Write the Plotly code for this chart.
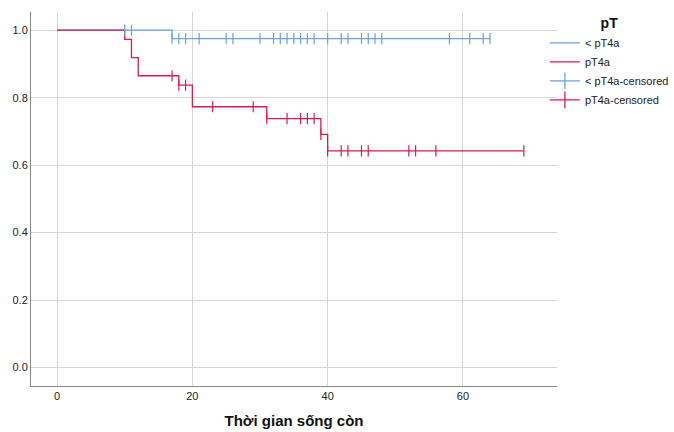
import plotly.graph_objects as go
import numpy as np

# ---- data ----
blue_name = "< pT4a"
red_name = "pT4a"
blue_times = [0, 17, 64]
blue_surv = [1.0, 0.975, 0.975]
blue_censor = [10, 11, 17, 18, 19, 21, 25, 26, 30, 32, 33, 34, 35, 36, 37, 38,
               40, 42, 43, 45, 46, 47, 48, 58, 61, 63, 64]

red_times = [0, 10, 11, 12, 18, 20, 31, 39, 40, 69]
red_surv = [1.0, 0.973, 0.919, 0.865, 0.837, 0.773, 0.738, 0.691, 0.642, 0.642]
red_censor = [17, 18, 19, 23, 29, 31, 34, 36, 37, 38, 39, 40, 42, 43, 45, 46,
              52, 53, 56, 69]

x_ticks = [0, 20, 40, 60]
y_ticks = [0.0, 0.2, 0.4, 0.6, 0.8, 1.0]

BLUE = "#6a9fe2"
RED = "#d81c4f"


def surv_at(times, surv, t):
    idx = np.searchsorted(np.array(times), t, side="right") - 1
    return surv[max(idx, 0)]


fig = go.Figure()
fig.add_trace(go.Scatter(x=blue_times, y=blue_surv, mode="lines", line_shape="hv",
                         line=dict(color=BLUE, width=1.3), name=blue_name))
fig.add_trace(go.Scatter(x=red_times, y=red_surv, mode="lines", line_shape="hv",
                         line=dict(color=RED, width=1.3), name=red_name))

# censored marks (drawn on the curves)
fig.add_trace(go.Scatter(x=blue_censor, y=[surv_at(blue_times, blue_surv, t) for t in blue_censor],
                         mode="markers", marker=dict(symbol="line-ns", size=8,
                                                     line=dict(color=BLUE, width=1.2)),
                         showlegend=False, hoverinfo="x+y"))
fig.add_trace(go.Scatter(x=red_censor, y=[surv_at(red_times, red_surv, t) for t in red_censor],
                         mode="markers", marker=dict(symbol="line-ns", size=8,
                                                     line=dict(color=RED, width=1.2)),
                         showlegend=False, hoverinfo="x+y"))

# legend entries for censored series
fig.add_trace(go.Scatter(x=[None], y=[None], mode="lines+markers",
                         line=dict(color=BLUE, width=1.3),
                         marker=dict(symbol="line-ns", size=12, line=dict(color=BLUE, width=1.3)),
                         name=blue_name + "-censored"))
fig.add_trace(go.Scatter(x=[None], y=[None], mode="lines+markers",
                         line=dict(color=RED, width=1.3),
                         marker=dict(symbol="line-ns", size=12, line=dict(color=RED, width=1.3)),
                         name=red_name + "-censored"))

fig.update_layout(
    width=674, height=432,
    margin=dict(l=31, r=117, t=12, b=46, autoexpand=False),
    paper_bgcolor="white", plot_bgcolor="white",
    font=dict(family="Liberation Sans, Arial, sans-serif", size=11, color="#222"),
    showlegend=True,
    legend=dict(x=0.977, y=1.005, xanchor="left", yanchor="top",
                title=dict(text="<b>pT</b>", side="top center",
                           font=dict(size=14, color="#111")),
                font=dict(size=11, color="#222"),
                bgcolor="rgba(0,0,0,0)", itemwidth=30),
)
fig.update_xaxes(range=[-3.85, 73.9], tickvals=x_ticks, ticktext=[str(v) for v in x_ticks],
                 showgrid=True, gridcolor="#d6d6d6", gridwidth=1,
                 showline=True, linecolor="#888", linewidth=1, zeroline=False,
                 ticks="", ticklen=0, automargin=False,
                 title=dict(text="<b>Thời gian sống còn</b>", font=dict(size=15, color="#111"),
                            standoff=14))
fig.update_yaxes(range=[-0.055, 1.054], tickvals=y_ticks, ticktext=[f"{v:.1f}" for v in y_ticks],
                 showgrid=True, gridcolor="#d6d6d6", gridwidth=1,
                 showline=True, linecolor="#888", linewidth=1, zeroline=False,
                 ticks="", ticklen=0, automargin=False)

fig.write_html("out.html", config={"displayModeBar": False},
               post_script="document.body.style.margin='0';document.body.style.overflow='hidden';")
